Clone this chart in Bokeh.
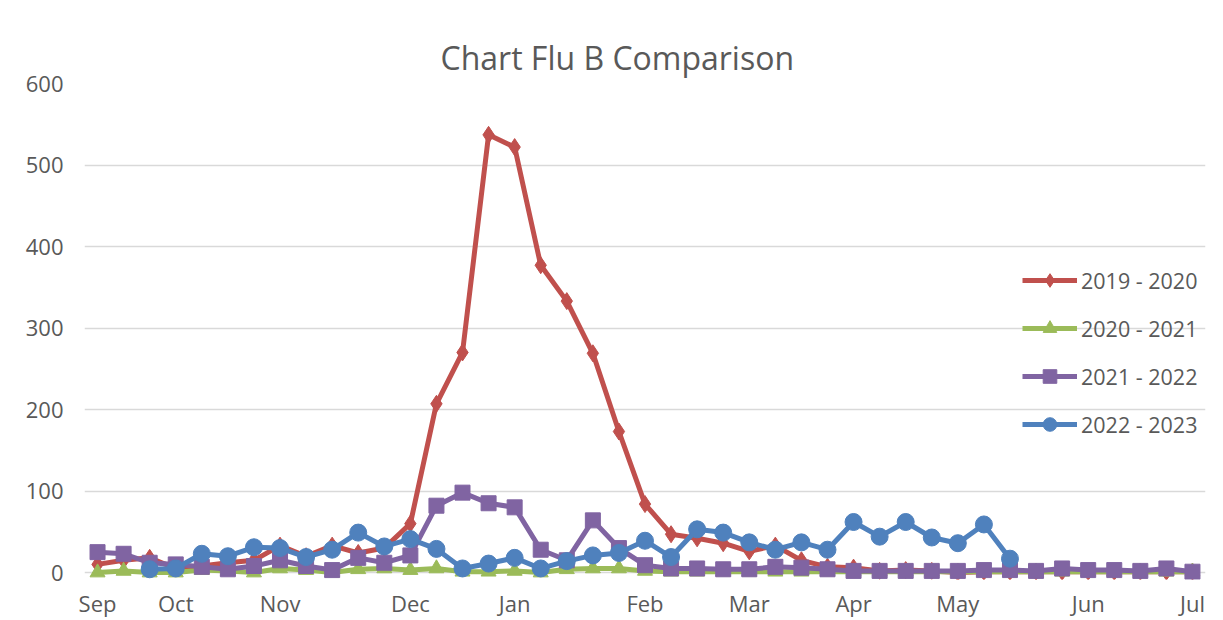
import numpy as np
from bokeh.plotting import figure
from bokeh.models import Range1d, FixedTicker, Legend, LegendItem, BoxAnnotation
from bokeh.embed import file_html
from bokeh.resources import INLINE

# weekly index 0..42, month labels at given indices
month_idx = [0, 3, 7, 12, 16, 21, 25, 29, 33, 38, 42]
month_lbl = ["Sep", "Oct", "Nov", "Dec", "Jan", "Feb", "Mar", "Apr", "May", "Jun", "Jul"]

s2019 = [10, 15, 18, 5, 8, 12, 15, 33, 20, 33, 24, 30, 60, 207, 270, 537, 522, 377,
         333, 269, 173, 84, 47, 42, 36, 26, 33, 15, 7, 6, 2, 3, 2, 0, 1, 1, 1, 1, 1, 1, 1, 1, 1]
s2020 = [0, 2, 0, 0, 3, 2, 0, 5, 3, 0, 4, 5, 3, 5, 1, 1, 2, 0, 4, 5, 5, 2, 1, 1, 1, 1,
         1, 1, 1, 1, 1, 1, 1, 1, 1, 1, 1, 1, 1, 1, 1, 1, 1]
s2021 = [25, 23, 12, 10, 7, 4, 8, 15, 8, 3, 18, 12, 21, 82, 98, 85, 80, 28, 15, 64, 30,
         9, 5, 5, 4, 4, 7, 6, 4, 2, 2, 2, 2, 2, 3, 3, 2, 5, 3, 3, 2, 5, 1]
s2022 = [None, None, 4, 5, 23, 20, 31, 30, 19, 28, 49, 32, 41, 29, 5, 11, 18, 5, 14, 21,
         24, 39, 19, 53, 49, 37, 28, 37, 28, 62, 44, 62, 43, 36, 59, 17,
         None, None, None, None, None, None, None]

x = list(range(len(s2019)))

p = figure(width=1207, height=620, output_backend="svg", toolbar_location=None,
           x_range=Range1d(-0.5, 42.5), y_range=Range1d(-8.55, 600),
           min_border_left=84, min_border_right=2, min_border_top=83, min_border_bottom=39)
p.outline_line_color = None
p.background_fill_color = "white"
p.border_fill_color = "white"

p.title.text = "Chart Flu B Comparison"
p.title.align = "left"
p.title.offset = 356
p.title.text_font = "Open Sans"
p.title.text_font_style = "normal"
p.title.text_font_size = "32px"
p.title.text_color = "#595959"
p.title.standoff = 10

p.xgrid.grid_line_color = None
p.ygrid.grid_line_color = "#d9d9d9"
p.ygrid.grid_line_width = 1.5
p.yaxis.ticker = FixedTicker(ticks=[0, 100, 200, 300, 400, 500, 600])
p.xaxis.ticker = FixedTicker(ticks=month_idx)
p.xaxis.major_label_overrides = {i: l for i, l in zip(month_idx, month_lbl)}
for ax in (p.xaxis[0], p.yaxis[0]):
    ax.axis_line_color = None
    ax.major_tick_line_color = None
    ax.minor_tick_line_color = None
    ax.major_label_text_font = "Open Sans"
    ax.major_label_text_font_size = "22px"
    ax.major_label_text_color = "#595959"
p.yaxis.major_label_standoff = 15
p.xaxis.major_label_standoff = 2

# chart-area border (light gray frame around the whole chart)
border = BoxAnnotation(left=8, right=1240, top=10, bottom=660,
                       left_units="canvas", right_units="canvas",
                       top_units="canvas", bottom_units="canvas",
                       fill_alpha=0, line_color="#d9d9d9", line_width=1.5,
                       editable=False)
p.add_layout(border)

series = [
    ("2019 - 2020", s2019, "#C0504D", "diamond", 17),
    ("2020 - 2021", s2020, "#9BBB59", "triangle", 15),
    ("2021 - 2022", s2021, "#8064A2", "square", 15),
    ("2022 - 2023", s2022, "#4F81BD", "circle", 17),
]
items = []
for name, vals, col, mk, sz in series:
    y = [np.nan if v is None else v for v in vals]
    r1 = p.line(x, y, line_color=col, line_width=5)
    r2 = p.scatter(x, y, marker=mk, size=sz, fill_color=col, line_color=col)
    items.append(LegendItem(label=name, renderers=[r1, r2]))

legend = Legend(items=items, location=(938, 138), orientation="vertical",
                glyph_width=55, glyph_height=34, label_height=20, spacing=14,
                label_standoff=4, padding=0, margin=0,
                border_line_color=None, background_fill_alpha=0,
                label_text_font="Open Sans", label_text_font_size="21.5px",
                label_text_color="#595959")
p.add_layout(legend, "center")

open("out.html", "w").write(file_html(p, INLINE))
